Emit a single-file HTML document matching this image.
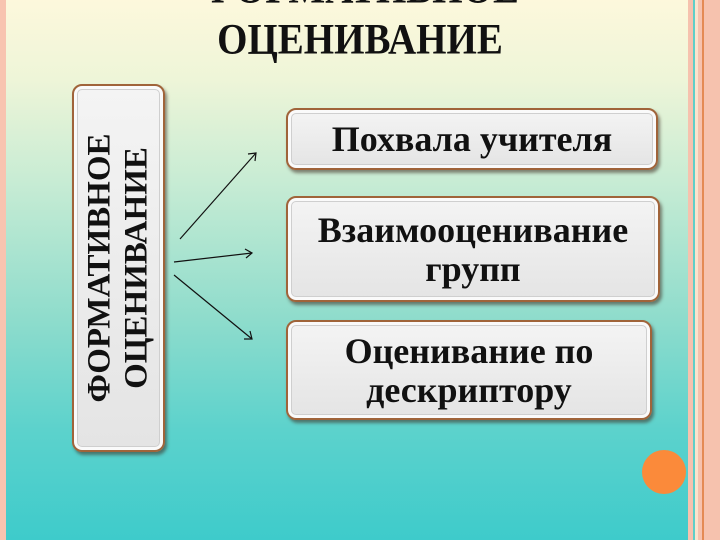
<!DOCTYPE html>
<html><head><meta charset="utf-8"><style>
body{margin:0;width:720px;height:540px;overflow:hidden;position:relative;font-family:"Liberation Serif",serif;
background:linear-gradient(to bottom,#fdf8dc 0px,#eef5d8 80px,#c8ecd4 180px,#8edccc 320px,#5cd2cc 430px,#3ecbcb 540px);}
.lb{position:absolute;left:0;top:0;width:6px;height:540px;background:#f8c4b0}
.rb{position:absolute;left:688px;top:0;width:32px;height:540px;background:#f6c2ae}
.box{position:absolute;box-sizing:border-box;border:2px solid #a0643a;border-radius:10px;
background:linear-gradient(#f4f4f4,#e4e4e4);box-shadow:2px 3px 3px rgba(60,40,30,.55),inset 0 0 0 3px #fafafa, inset 0 0 0 4px #cfcfcf;
display:flex;align-items:center;justify-content:center;text-align:center;font-weight:bold;font-size:36px;line-height:39px;color:#111;}
.t{position:absolute;left:0;width:720px;text-align:center;font-size:39px;color:#111;transform:scaleY(1.12)}
</style></head><body>
<div class="lb"></div>
<div class="rb">
<div style="position:absolute;left:5px;top:0;width:2px;height:540px;background:#5fcfc8"></div>
<div style="position:absolute;left:7px;top:0;width:3px;height:540px;background:#fbe3cc"></div>
<div style="position:absolute;left:14px;top:0;width:2px;height:540px;background:#e48a54"></div>
</div>
<div class="t" style="top:-34px;font-weight:bold">ФОРМАТИВНОЕ</div>
<div class="t" style="top:17px;font-weight:bold">ОЦЕНИВАНИЕ</div>
<div class="box" style="left:72px;top:84px;width:93px;height:368px;">
<div style="transform:rotate(-90deg);white-space:nowrap;font-size:33px;line-height:37px;">ФОРМАТИВНОЕ<br>ОЦЕНИВАНИЕ</div></div>
<div class="box" style="left:286px;top:108px;width:372px;height:62px;">Похвала учителя</div>
<div class="box" style="left:286px;top:196px;width:374px;height:106px;padding-top:2px">Взаимооценивание<br>групп</div>
<div class="box" style="left:286px;top:320px;width:366px;height:100px;padding-top:2px">Оценивание по<br>дескриптору</div>
<svg style="position:absolute;left:0;top:0" width="720" height="540">
<g stroke="#111" stroke-width="1.2" fill="none">
<line x1="180" y1="239" x2="256" y2="153"/><polyline points="248,154 256,153 255,161"/>
<line x1="174" y1="262" x2="252" y2="253"/><polyline points="245,249 252,253 246,258"/>
<line x1="174" y1="275" x2="252" y2="339"/><polyline points="250,331 252,339 244,339"/>
</g>
<circle cx="664" cy="472" r="22" fill="#fb8a3a"/>
</svg>
</body></html>
